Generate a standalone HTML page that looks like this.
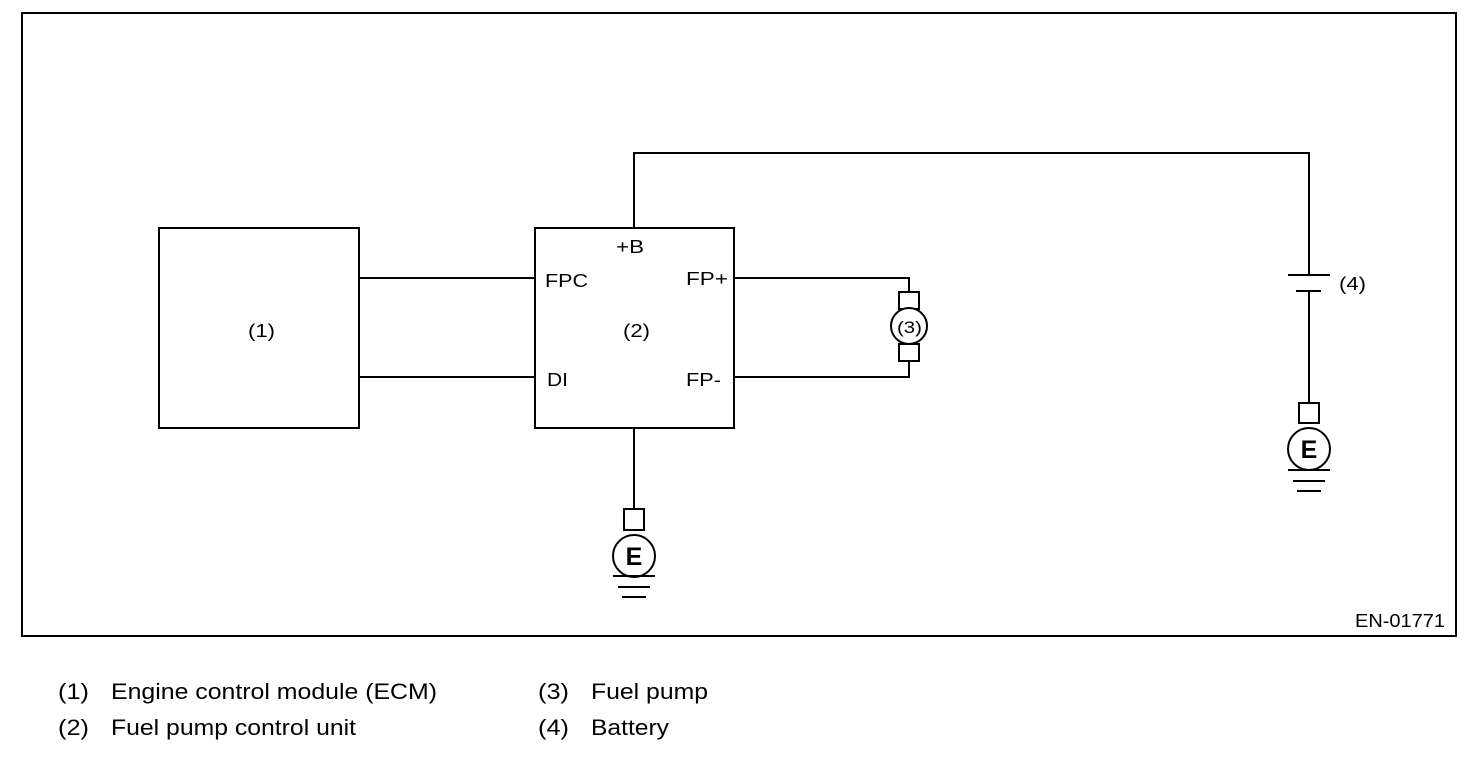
<!DOCTYPE html>
<html><head><style>
body{margin:0;background:#fff;width:1472px;height:754px;overflow:hidden}
svg text{font-family:"Liberation Sans",sans-serif;fill:#000}
</style></head><body>
<svg width="1472" height="754" viewBox="0 0 1472 754" xmlns="http://www.w3.org/2000/svg">
<g fill="none" stroke="#000" stroke-width="2">
<rect x="22" y="13" width="1434" height="623"/>
<rect x="159" y="228" width="200" height="200"/>
<rect x="535" y="228" width="199" height="200"/>
<line x1="359" y1="278" x2="535" y2="278"/>
<line x1="359" y1="377" x2="535" y2="377"/>
<polyline points="734,278 909,278 909,292"/>
<polyline points="734,377 909,377 909,361"/>
<rect x="899" y="292" width="20" height="17"/>
<rect x="899" y="344" width="20" height="17"/>
<circle cx="909" cy="326" r="18" fill="#fff"/>
<polyline points="634,228 634,153 1309,153 1309,275"/>
<line x1="1288" y1="275" x2="1330" y2="275"/>
<line x1="1296" y1="291" x2="1321" y2="291"/>
<line x1="1309" y1="291" x2="1309" y2="403"/>
<rect x="1299" y="403" width="20" height="20"/>
<circle cx="1309" cy="449" r="21"/>
<line x1="1288" y1="470" x2="1330" y2="470"/>
<line x1="1293" y1="481" x2="1325" y2="481"/>
<line x1="1297" y1="491" x2="1321" y2="491"/>
<line x1="634" y1="428" x2="634" y2="509"/>
<rect x="624" y="509" width="20" height="21"/>
<circle cx="634" cy="556" r="21"/>
<line x1="613" y1="576" x2="655" y2="576"/>
<line x1="618" y1="587" x2="650" y2="587"/>
<line x1="622" y1="597" x2="646" y2="597"/>
</g>
<text x="1309" y="458" font-size="25" font-weight="bold" text-anchor="middle">E</text>
<text x="634" y="565" font-size="25" font-weight="bold" text-anchor="middle">E</text>
<g font-size="18">
<text x="248" y="337" textLength="27" lengthAdjust="spacingAndGlyphs">(1)</text>
<text x="623" y="337" textLength="27" lengthAdjust="spacingAndGlyphs">(2)</text>
<text x="897" y="333" font-size="17" textLength="25" lengthAdjust="spacingAndGlyphs">(3)</text>
<text x="1339" y="290" textLength="27" lengthAdjust="spacingAndGlyphs">(4)</text>
<text x="616" y="253" textLength="28" lengthAdjust="spacingAndGlyphs">+B</text>
<text x="545" y="287" textLength="43" lengthAdjust="spacingAndGlyphs">FPC</text>
<text x="686" y="285" textLength="42" lengthAdjust="spacingAndGlyphs">FP+</text>
<text x="547" y="386" textLength="21" lengthAdjust="spacingAndGlyphs">DI</text>
<text x="686" y="386" textLength="35" lengthAdjust="spacingAndGlyphs">FP-</text>
<text x="1355" y="627" textLength="90" lengthAdjust="spacingAndGlyphs">EN-01771</text>
</g>
<g font-size="22">
<text x="58" y="699" textLength="31" lengthAdjust="spacingAndGlyphs">(1)</text><text x="111" y="699" textLength="326" lengthAdjust="spacingAndGlyphs">Engine control module (ECM)</text>
<text x="58" y="735" textLength="31" lengthAdjust="spacingAndGlyphs">(2)</text><text x="111" y="735" textLength="245" lengthAdjust="spacingAndGlyphs">Fuel pump control unit</text>
<text x="538" y="699" textLength="31" lengthAdjust="spacingAndGlyphs">(3)</text><text x="591" y="699" textLength="117" lengthAdjust="spacingAndGlyphs">Fuel pump</text>
<text x="538" y="735" textLength="31" lengthAdjust="spacingAndGlyphs">(4)</text><text x="591" y="735" textLength="78" lengthAdjust="spacingAndGlyphs">Battery</text>
</g>
</svg>
</body></html>
